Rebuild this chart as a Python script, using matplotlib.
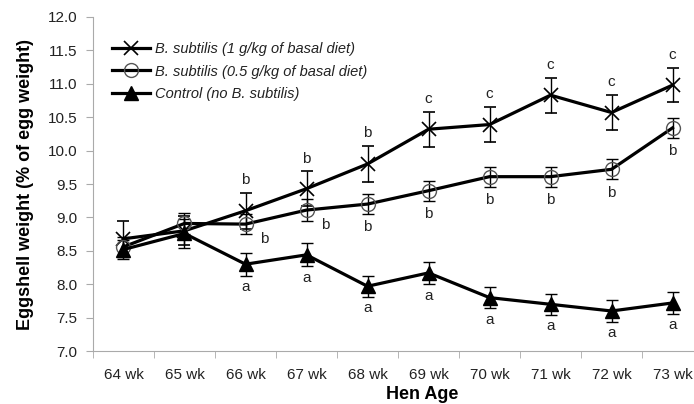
import matplotlib.pyplot as plt
from matplotlib.lines import Line2D
import numpy as np

plt.rcParams['font.family'] = ['Liberation Sans', 'DejaVu Sans']

weeks = ['64 wk', '65 wk', '66 wk', '67 wk', '68 wk', '69 wk', '70 wk', '71 wk', '72 wk', '73 wk']

high = [8.68, 8.80, 9.10, 9.43, 9.80, 10.32, 10.39, 10.83, 10.57, 10.98]
high_err = [0.26, 0.22, 0.27, 0.26, 0.27, 0.26, 0.26, 0.26, 0.26, 0.26]
high_sig = ['', '', 'b', 'b', 'b', 'c', 'c', 'c', 'c', 'c']

low = [8.56, 8.91, 8.90, 9.11, 9.20, 9.40, 9.61, 9.61, 9.72, 10.34]
low_err = [0.15, 0.16, 0.15, 0.16, 0.15, 0.15, 0.15, 0.15, 0.15, 0.15]
low_sig = ['', '', 'b', 'b', 'b', 'b', 'b', 'b', 'b', 'b']

ctrl = [8.52, 8.76, 8.30, 8.44, 7.97, 8.17, 7.80, 7.70, 7.60, 7.72]
ctrl_err = [0.14, 0.22, 0.17, 0.17, 0.16, 0.17, 0.16, 0.16, 0.16, 0.16]
ctrl_sig = ['', '', 'a', 'a', 'a', 'a', 'a', 'a', 'a', 'a']

labels = ['B. subtilis (1 g/kg of basal diet)',
          'B. subtilis (0.5 g/kg of basal diet)',
          'Control (no B. subtilis)']

x = np.arange(len(weeks))

fig = plt.figure(figsize=(6.94, 4.04), dpi=100)
ax = fig.add_axes([0.134, 0.131, 0.879, 0.827])

styles = [
    dict(marker='x', ms=10, mew=1.2, mec='black', mfc='black'),
    dict(marker='o', ms=10, mew=1.0, mec='#555555', mfc='none'),
    dict(marker='^', ms=10, mew=1.0, mec='black', mfc='black'),
]
err_kw = dict(ecolor='black', elinewidth=1.0, capsize=4, capthick=1.0)
for vals, errs, st in zip([high, low, ctrl], [high_err, low_err, ctrl_err], styles):
    ax.errorbar(x, vals, yerr=errs, color='black', lw=2.3, **st, **err_kw)

fs = 11
for i in x:
    if high_sig[i]:
        ax.text(i, high[i] + high_err[i] + 0.19, high_sig[i], ha='center', va='center', fontsize=fs, color='#222222')
    if low_sig[i]:
        if i in (2, 3):
            ax.text(i + 0.3, low[i] - 0.22, low_sig[i], ha='center', va='center', fontsize=fs, color='#222222')
        else:
            ax.text(i, low[i] - low_err[i] - 0.2, low_sig[i], ha='center', va='center', fontsize=fs, color='#222222')
    if ctrl_sig[i]:
        ax.text(i, ctrl[i] - ctrl_err[i] - 0.17, ctrl_sig[i], ha='center', va='center', fontsize=fs, color='#222222')

ax.set_xlim(-0.5, 9.5)
ax.set_ylim(7.0, 12.0)
ax.set_yticks(np.arange(7.0, 12.01, 0.5))
ax.set_yticklabels(['%.1f' % v for v in np.arange(7.0, 12.01, 0.5)], fontsize=fs, color='#222222')
ax.set_xticks(x)
ax.set_xticklabels(weeks, fontsize=fs, color='#222222')
ax.set_xticks(np.arange(-0.5, 9.6, 1), minor=True)
ax.tick_params(axis='x', which='major', length=0, pad=12)
ax.tick_params(axis='x', which='minor', length=5, color='#aaaaaa')
ax.tick_params(axis='y', length=5, color='#aaaaaa', pad=6)

for s in ['top', 'right']:
    ax.spines[s].set_visible(False)
for s in ['left', 'bottom']:
    ax.spines[s].set_color('#aaaaaa')

ax.set_ylabel('Eggshell weight (% of egg weight)', fontsize=13, fontweight='bold', labelpad=10)
ax.set_xlabel('Hen Age', fontsize=13, fontweight='bold')
ax.xaxis.set_label_coords(0.54, -0.104)

handles = [Line2D([], [], color='black', lw=2.3, **st) for st in styles]
leg = ax.legend(handles, labels, loc='upper left', bbox_to_anchor=(0.01, 0.965), frameon=False,
                prop={'style': 'italic', 'size': 10.5}, handlelength=2.6,
                handletextpad=0.35, labelspacing=0.6)
for t in leg.get_texts():
    t.set_color('#222222')

fig.savefig('out.png', dpi=100)
